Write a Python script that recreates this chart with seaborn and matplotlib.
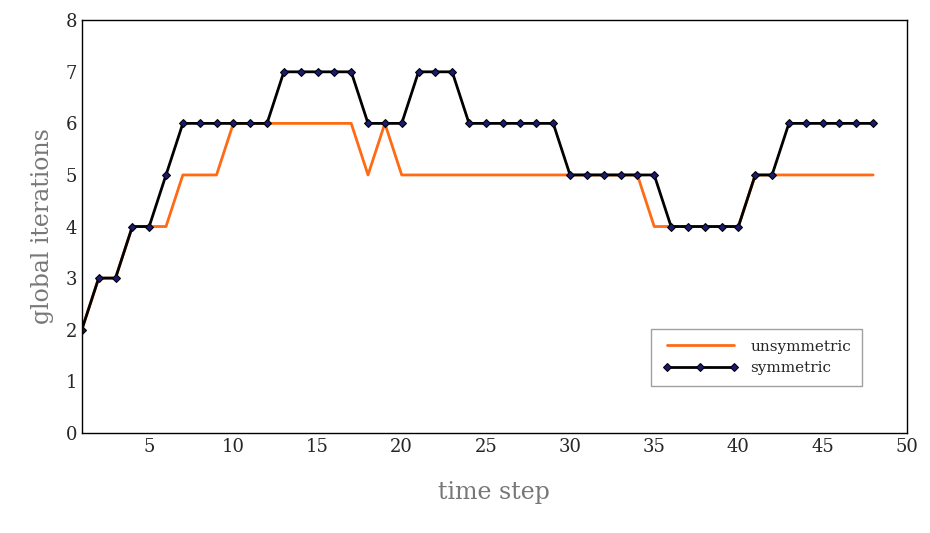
import matplotlib
matplotlib.use("Agg")
import matplotlib.pyplot as plt
import seaborn as sns
import pandas as pd
from matplotlib.ticker import MultipleLocator

steps = list(range(1, 49))
unsymmetric = [2,3,3,4,4,4,5,5,5,6,6,6,6,6,6,6,6,5,6,5,
               5,5,5,5,5,5,5,5,5,5,5,5,5,5,4,4,4,4,4,4,
               5,5,5,5,5,5,5,5]
symmetric = [2,3,3,4,4,5,6,6,6,6,6,6,7,7,7,7,7,6,6,6,
             7,7,7,6,6,6,6,6,6,5,5,5,5,5,5,4,4,4,4,4,
             5,5,6,6,6,6,6,6]

df = pd.DataFrame({"step": steps, "unsymmetric": unsymmetric, "symmetric": symmetric})

sns.set_style("white")
plt.rcParams['font.family'] = ['DejaVu Serif']
fig, ax = plt.subplots(figsize=(9.3, 5.33), dpi=100)
fig.subplots_adjust(left=0.088, right=0.975, top=0.962, bottom=0.188)

sns.lineplot(data=df, x="step", y="unsymmetric", ax=ax, color="#ff6a13", lw=2, label="unsymmetric")
sns.lineplot(data=df, x="step", y="symmetric", ax=ax, color="black", lw=2, marker="D",
             markersize=4, markerfacecolor="#1a1a6e", markeredgecolor="black", label="symmetric")

ax.set_xlim(1, 50)
ax.set_ylim(0, 8)
ax.xaxis.set_major_locator(MultipleLocator(5))
ax.xaxis.set_minor_locator(MultipleLocator(1))
ax.yaxis.set_major_locator(MultipleLocator(1))
ax.tick_params(which="both", direction="in", top=False, right=False, labelsize=13)
ax.tick_params(which="major", length=7)
ax.tick_params(which="minor", length=4)
for s in ax.spines.values():
    s.set_color("black"); s.set_linewidth(1)
ax.set_xlabel("time step", fontsize=17, color="#777777", labelpad=18)
ax.set_ylabel("global iterations", fontsize=17, color="#777777", labelpad=8)
leg = ax.legend(loc="lower right", bbox_to_anchor=(0.955, 0.095), fontsize=11, frameon=True,
                fancybox=False, edgecolor="#888888", handlelength=5, numpoints=3,
                borderpad=0.7)
fig.savefig("out.png", dpi=100)
